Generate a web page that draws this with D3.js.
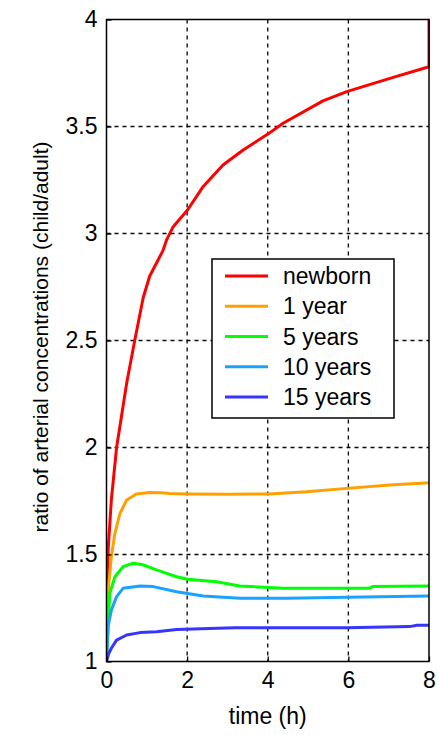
<!DOCTYPE html>
<html>
<head>
<meta charset="utf-8">
<script src="https://cdn.jsdelivr.net/npm/d3@7"></script>
<style>
  html, body { margin: 0; padding: 0; background: #fff; }
  svg { display: block; font-family: "Liberation Sans", Arial, sans-serif; }
</style>
</head>
<body>
<svg id="chart" width="439" height="735"></svg>
<script>
// Ratio of arterial concentrations (child/adult) over time, by age group
const seriesNames = ["newborn", "1 year", "5 years", "10 years", "15 years"];
const seriesColors = ["#ff0000", "#ffa000", "#00ff00", "#19a3ff", "#3535ff"];

const newbornT = [0, 0.04, 0.12, 0.25, 0.5, 0.7, 0.91, 1.07, 1.4, 1.49, 1.65, 2.01, 2.4, 2.89, 3.39, 4.03, 4.38, 5.37, 5.96, 7.03, 8, 8];
const newbornV = [1.0, 1.52, 1.755, 2.0, 2.3, 2.5, 2.7, 2.8, 2.92, 2.97, 3.03, 3.11, 3.22, 3.32, 3.39, 3.468, 3.515, 3.62, 3.663, 3.725, 3.779, 4.0];

const year1T = [0, 0.04, 0.12, 0.21, 0.33, 0.5, 0.74, 1.07, 1.36, 1.57, 2.01, 3.0, 4.03, 4.96, 5.96, 7.03, 8];
const year1V = [1.0, 1.33, 1.49, 1.6, 1.69, 1.755, 1.783, 1.79, 1.788, 1.785, 1.783, 1.782, 1.783, 1.793, 1.809, 1.825, 1.835];

const year5T = [0, 0.08, 0.21, 0.41, 0.66, 0.9, 1.24, 1.74, 2.01, 2.73, 3.31, 4.38, 5.5, 6.53, 6.6, 8];
const year5V = [1.0, 1.319, 1.396, 1.443, 1.459, 1.452, 1.428, 1.396, 1.384, 1.373, 1.353, 1.342, 1.342, 1.342, 1.35, 1.353];

const year10T = [0, 0.04, 0.12, 0.25, 0.41, 0.83, 1.16, 1.74, 2.4, 3.31, 4.5, 5.96, 8];
const year10V = [1.0, 1.163, 1.24, 1.303, 1.342, 1.353, 1.35, 1.326, 1.306, 1.295, 1.296, 1.3, 1.306];

const year15T = [0, 0.05, 0.12, 0.25, 0.5, 0.83, 1.24, 1.74, 3.18, 5.96, 7.52, 7.7, 8];
const year15V = [1.0, 1.035, 1.062, 1.1, 1.124, 1.135, 1.139, 1.15, 1.158, 1.158, 1.163, 1.169, 1.169];

const seriesT = [newbornT, year1T, year5T, year10T, year15T];
const seriesV = [newbornV, year1V, year5V, year10V, year15V];

const xTicks = [0, 2, 4, 6, 8];
const yTicks = [1, 1.5, 2, 2.5, 3, 3.5, 4];

const svg = d3.select("#chart");
const plot = { left: 106.5, right: 429, top: 19.5, bottom: 661.5 };

const x = d3.scaleLinear().domain([0, 8]).range([plot.left, plot.right]);
const y = d3.scaleLinear().domain([1, 4]).range([plot.bottom, plot.top]);

// dashed grid
const grid = svg.append("g");
grid.selectAll("line.gx").data(xTicks.slice(1, -1)).join("line")
  .attr("x1", d => x(d)).attr("x2", d => x(d))
  .attr("y1", plot.top).attr("y2", plot.bottom)
  .attr("stroke", "#000").attr("stroke-width", 1.3).attr("stroke-dasharray", "4,4");
grid.selectAll("line.gy").data(yTicks.slice(1, -1)).join("line")
  .attr("y1", d => y(d)).attr("y2", d => y(d))
  .attr("x1", plot.left).attr("x2", plot.right)
  .attr("stroke", "#000").attr("stroke-width", 1.3).attr("stroke-dasharray", "4,4");

// curves, drawn newborn first so older ages sit on top
const line = d3.line().x(d => x(d[0])).y(d => y(d[1]));
const clip = svg.append("clipPath").attr("id", "plotclip").append("rect")
  .attr("x", plot.left).attr("y", plot.top - 1)
  .attr("width", plot.right - plot.left + 1).attr("height", plot.bottom - plot.top + 1);
const curves = svg.append("g").attr("clip-path", "url(#plotclip)");
seriesNames.forEach((name, i) => {
  const pts = seriesT[i].map((t, j) => [t, seriesV[i][j]]);
  curves.append("path").datum(pts)
    .attr("d", line)
    .attr("fill", "none")
    .attr("stroke", seriesColors[i])
    .attr("stroke-width", 3)
    .attr("stroke-linejoin", "round");
});

// axes (ticks inward, MATLAB style)
const xAxis = d3.axisBottom(x).tickValues(xTicks).tickSize(-5).tickPadding(10).tickFormat(d3.format("d"));
const yAxis = d3.axisLeft(y).tickValues(yTicks).tickSize(-5).tickPadding(9).tickFormat(d => String(d));

const gx = svg.append("g").attr("transform", `translate(0,${plot.bottom})`).call(xAxis);
const gy = svg.append("g").attr("transform", `translate(${plot.left},0)`).call(yAxis);
[gx, gy].forEach(g => {
  g.select(".domain").remove();
  g.selectAll(".tick line").attr("stroke", "#000").attr("stroke-width", 1.3);
  g.selectAll(".tick text").attr("fill", "#000").attr("font-size", 23)
    .attr("font-family", "Liberation Sans, Arial, sans-serif");
});

// axes box
svg.append("rect")
  .attr("x", plot.left).attr("y", plot.top)
  .attr("width", plot.right - plot.left).attr("height", plot.bottom - plot.top)
  .attr("fill", "none").attr("stroke", "#000").attr("stroke-width", 1.5);

// axis titles
svg.append("text")
  .attr("x", (plot.left + plot.right) / 2).attr("y", 724)
  .attr("text-anchor", "middle").attr("font-size", 23)
  .text("time (h)");
svg.append("text")
  .attr("transform", `translate(48,337) rotate(-90)`)
  .attr("text-anchor", "middle").attr("font-size", 21)
  .text("ratio of arterial concentrations (child/adult)");

// legend
const legend = svg.append("g");
legend.append("rect")
  .attr("x", 212).attr("y", 259).attr("width", 182).attr("height", 159)
  .attr("fill", "#fff").attr("stroke", "#000").attr("stroke-width", 1.5);
const rowY = d3.scaleLinear().domain([0, 4]).range([276, 397]);
seriesNames.forEach((name, i) => {
  legend.append("line")
    .attr("x1", 225).attr("x2", 268)
    .attr("y1", rowY(i)).attr("y2", rowY(i))
    .attr("stroke", seriesColors[i]).attr("stroke-width", 3);
  legend.append("text")
    .attr("x", 283).attr("y", rowY(i) + 8)
    .attr("font-size", 23)
    .text(name);
});
</script>
</body>
</html>
